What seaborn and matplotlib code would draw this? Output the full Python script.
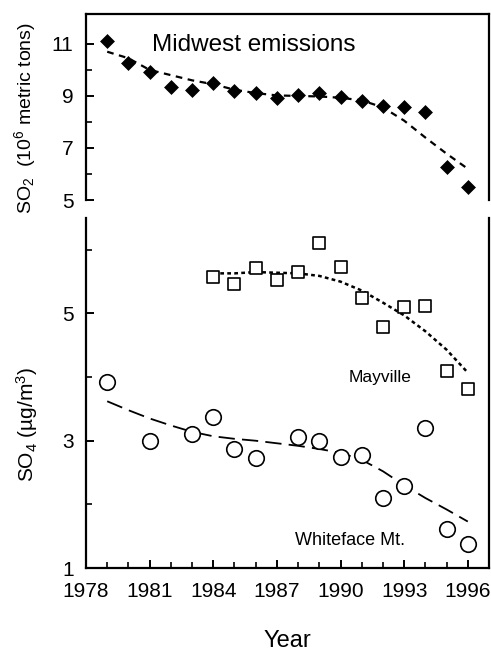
import matplotlib
matplotlib.use("Agg")
import matplotlib.pyplot as plt
import seaborn as sns
import numpy as np

# ---- data ----
so2_years = [1979, 1980, 1981, 1982, 1983, 1984, 1985, 1986, 1987, 1988,
             1989, 1990, 1991, 1992, 1993, 1994, 1995, 1996]
so2_values = [11.1, 10.25, 9.93, 9.35, 9.24, 9.5, 9.19, 9.13, 8.92, 9.05,
              9.11, 8.95, 8.79, 8.6, 8.57, 8.38, 6.25, 5.5]
so2_trend = [10.7, 10.45, 10.0, 9.8, 9.6, 9.45, 9.24, 9.11, 9.02, 9.0,
             8.98, 8.93, 8.83, 8.56, 8.05, 7.4, 6.78, 6.2]

may_years = [1984, 1985, 1986, 1987, 1988, 1989, 1990, 1991, 1992, 1993,
             1994, 1995, 1996]
may_values = [5.57, 5.47, 5.71, 5.53, 5.65, 6.1, 5.73, 5.24, 4.79, 5.1,
              5.11, 4.09, 3.81]
may_trend = [5.63, 5.63, 5.65, 5.64, 5.63, 5.59, 5.5, 5.36, 5.17, 4.97,
             4.72, 4.43, 4.07]

wf_years = [1979, 1981, 1983, 1984, 1985, 1986, 1988, 1989, 1990, 1991,
            1992, 1993, 1994, 1995, 1996]
wf_values = [3.93, 3.0, 3.11, 3.37, 2.87, 2.73, 3.06, 3.0, 2.75, 2.77,
             2.1, 2.29, 3.2, 1.61, 1.37]
wf_trend_years = [1979, 1980, 1981, 1982, 1983, 1984, 1985, 1986, 1987, 1988,
                  1989, 1990, 1991, 1992, 1993, 1994, 1995, 1996]
wf_trend = [3.62, 3.48, 3.35, 3.24, 3.14, 3.07, 3.03, 3.0, 2.96, 2.92,
            2.87, 2.81, 2.7, 2.52, 2.3, 2.1, 1.92, 1.73]

x_ticks = [1978, 1981, 1984, 1987, 1990, 1993, 1996]

# ---- style ----
sns.set_theme(style="ticks")
plt.rcParams['font.family'] = ['Liberation Sans', 'DejaVu Sans']
plt.rcParams['mathtext.fontset'] = 'custom'
plt.rcParams['mathtext.rm'] = 'Liberation Sans'
plt.rcParams['mathtext.it'] = 'Liberation Sans:italic'
plt.rcParams['axes.linewidth'] = 1.6
plt.rcParams['xtick.direction'] = 'in'
plt.rcParams['ytick.direction'] = 'in'
for key in ['text.color', 'axes.labelcolor', 'xtick.color', 'ytick.color',
            'axes.edgecolor', 'xtick.labelcolor', 'ytick.labelcolor']:
    plt.rcParams[key] = 'black'

fig = plt.figure(figsize=(4.91, 6.53), dpi=100)
W, H = 491, 653
L, R = 86, 489
ax1 = fig.add_axes([L / W, 1 - 200 / H, (R - L) / W, (200 - 14) / H])
ax2 = fig.add_axes([L / W, 1 - 568 / H, (R - L) / W, (568 - 218) / H])

tick_fs = 15

# ---- top panel ----
sns.scatterplot(x=so2_years, y=so2_values, marker='D', s=50, color='black',
                edgecolor='black', linewidth=0.5, ax=ax1, zorder=3)
sns.lineplot(x=so2_years, y=so2_trend, color='black', linewidth=1.6,
             linestyle=(0, (3.0, 2.5)), ax=ax1)
ax1.set_xlim(1978, 1997)
ax1.set_ylim(5, 12.15)
ax1.spines['bottom'].set_visible(False)
ax1.set_xticks([])
ax1.set_yticks([5, 7, 9, 11])
ax1.set_yticks([6, 8, 10], minor=True)
ax1.tick_params(axis='y', which='major', length=6, width=1.4, labelsize=tick_fs, pad=9)
ax1.tick_params(axis='y', which='minor', length=4, width=1.2)
ax1.set_ylabel(r'SO$_2$  (10$^6$ metric tons)', fontsize=14)
ax1.yaxis.set_label_coords(-0.12, 0.44)
ax1.text(1981.1, 10.96, 'Midwest emissions', fontsize=17.5, ha='left', va='center')

# ---- bottom panel ----
sns.scatterplot(x=may_years, y=may_values, marker='s', s=85, facecolor='white',
                edgecolor='black', linewidth=1.2, ax=ax2, zorder=3)
sns.lineplot(x=may_years, y=may_trend, color='black', linewidth=1.8,
             linestyle=(0, (1.5, 1.3)), ax=ax2)
sns.scatterplot(x=wf_years, y=wf_values, marker='o', s=125, facecolor='white',
                edgecolor='black', linewidth=1.2, ax=ax2, zorder=3)
sns.lineplot(x=wf_trend_years, y=wf_trend, color='black', linewidth=1.3,
             linestyle=(0, (9, 4)), ax=ax2)
ax2.set_xlim(1978, 1997)
ax2.set_ylim(1, 6.5)
ax2.set_xticks(x_ticks)
ax2.set_xticks(list(range(1979, 1997)), minor=True)
ax2.set_yticks([1, 3, 5])
ax2.set_yticks([2, 4, 6], minor=True)
ax2.tick_params(which='major', length=6, width=1.4, labelsize=tick_fs)
ax2.tick_params(axis='y', which='major', pad=9)
ax2.tick_params(axis='x', which='major', pad=10)
ax2.tick_params(which='minor', length=4, width=1.2)
ax2.set_ylabel(r'SO$_4$ (µg/m$^3$)', fontsize=15)
ax2.yaxis.set_label_coords(-0.113, 0.41)
ax2.set_xlabel('Year', fontsize=17)
ax2.xaxis.set_label_coords(0.5, -0.178)
ax2.text(1990.36, 4.0, 'Mayville', fontsize=12.5, ha='left', va='center')
ax2.text(1987.86, 1.43, 'Whiteface Mt.', fontsize=13, ha='left', va='center')

for ax in (ax1, ax2):
    ax.spines['top'].set_visible(ax is ax1)
    ax.spines['right'].set_visible(True)

fig.savefig('out.png', dpi=100)
